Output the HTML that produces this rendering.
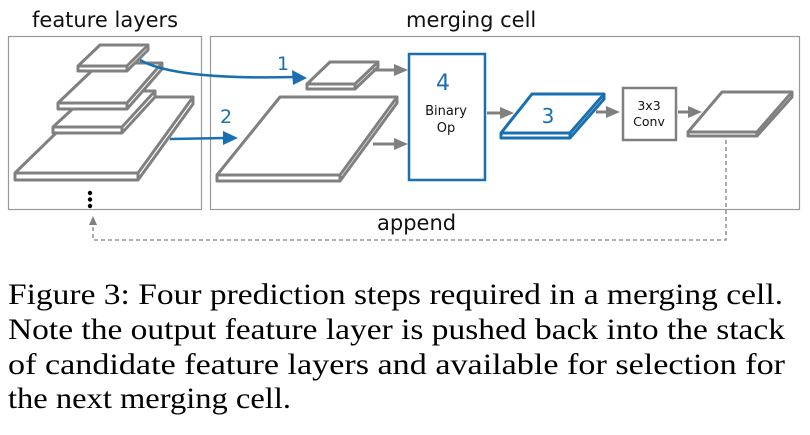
<!DOCTYPE html>
<html><head><style>
html,body{margin:0;padding:0;background:#fff;width:810px;height:435px;overflow:hidden}
svg{display:block}
.s{font-family:"DejaVu Sans","Liberation Sans",sans-serif}
.t{font-family:"Liberation Serif",serif;font-size:30px;fill:#000}
</style></head><body>
<svg width="810" height="435" viewBox="0 0 810 435" xmlns="http://www.w3.org/2000/svg">
<defs>
<marker id="ag" markerWidth="8" markerHeight="8" refX="6" refY="4" orient="auto" markerUnits="userSpaceOnUse"><path d="M0,0 L12,4 L0,8 Z" fill="#808080" transform="scale(0.6,1)"/></marker>
<marker id="ab" markerWidth="14" markerHeight="12" refX="12" refY="6" orient="auto" markerUnits="userSpaceOnUse"><path d="M0,0 L14,6 L0,12 Z" fill="#1a6fb0"/></marker>
<marker id="ad" markerWidth="8" markerHeight="10" refX="4" refY="0" orient="auto" markerUnits="userSpaceOnUse"></marker>
</defs>
<text x="32" y="27" class="s" font-size="21" fill="#111">feature layers</text>
<text x="406" y="27" class="s" font-size="21" fill="#111">merging cell</text>
<rect x="8.5" y="36.5" width="193" height="173" fill="none" stroke="#999" stroke-width="1.2"/>
<rect x="210.5" y="36.5" width="589" height="173" fill="none" stroke="#999" stroke-width="1.2"/>
<g fill="#fff" stroke="#808080" stroke-width="3" stroke-linejoin="round">
<!-- big left -->
<path d="M93,97 L193,97 L193,104 L138,180 L15,180 L15,173 Z"/><path d="M15,173 L138,173 L193,97 M138,173 L138,180"/>
<!-- third -->
<path d="M92,91 L155,91 L155,97 L122,133 L53,133 L53,127 Z"/><path d="M53,127 L122,127 L155,91 M122,127 L122,133"/>
<!-- second -->
<path d="M100,63 L162,63 L162,69 L127,109 L58,109 L58,103 Z"/><path d="M58,103 L127,103 L162,63 M127,103 L127,109"/>
<!-- top small -->
<path d="M100,45 L148,45 L148,50 L127,71 L78,71 L78,66 Z"/><path d="M78,66 L127,66 L148,45 M127,66 L127,71"/>
<!-- merging small -->
<path d="M330,62 L378,62 L378,67 L355,89 L307,89 L307,84 Z"/><path d="M307,84 L355,84 L378,62 M355,84 L355,89"/>
<!-- merging big -->
<path d="M280,97 L397,97 L397,103 L340,181 L217,181 L217,175 Z"/><path d="M217,175 L340,175 L397,97 M340,175 L340,181"/>
<!-- output -->
<path d="M722,92 L792,92 L792,97 L757,136 L688,136 L688,132 Z"/><path d="M688,132 L757,132 L792,92 M757,132 L757,136"/>
</g>
<g fill="#fff" stroke="#1a6fb0" stroke-width="3" stroke-linejoin="round">
<path d="M532,94 L604,94 L604,99 L570,138 L501,138 L501,133 Z"/><path d="M501,133 L570,133 L604,94 M570,133 L570,138"/>
</g>
<circle cx="90" cy="193" r="2.2" fill="#000"/><circle cx="90" cy="199.5" r="2.2" fill="#000"/><circle cx="90" cy="206" r="2.2" fill="#000"/>
<!-- gray arrows -->
<g stroke="#808080" stroke-width="3" fill="#808080">
<line x1="373" y1="70" x2="396" y2="70"/><path d="M394,64 L408,70 L394,76 Z" stroke="none"/>
<line x1="373" y1="144" x2="396" y2="144"/><path d="M394,138 L408,144 L394,150 Z" stroke="none"/>
<line x1="487" y1="113" x2="502" y2="113"/><path d="M500,107 L514,113 L500,119 Z" stroke="none"/>
<line x1="596" y1="112" x2="608" y2="112"/><path d="M606,106 L620,112 L606,118 Z" stroke="none"/>
<line x1="678" y1="112" x2="690" y2="112"/><path d="M688,106 L702,112 L688,118 Z" stroke="none"/>
</g>
<rect x="409" y="54" width="76" height="126" fill="none" stroke="#1a6fb0" stroke-width="2.5"/>
<text x="443" y="90" class="s" font-size="22" fill="#1a6fb0" text-anchor="middle">4</text>
<text x="446" y="115" class="s" font-size="13" fill="#111" text-anchor="middle">Binary</text>
<text x="446" y="132" class="s" font-size="13" fill="#111" text-anchor="middle">Op</text>
<text x="548" y="123" class="s" font-size="20" fill="#1a6fb0" text-anchor="middle">3</text>
<rect x="623" y="88" width="53" height="52" fill="#fff" stroke="#808080" stroke-width="2.5"/>
<text x="649" y="110" class="s" font-size="12.5" fill="#111" text-anchor="middle">3x3</text>
<text x="649" y="126" class="s" font-size="12.5" fill="#111" text-anchor="middle">Conv</text>
<!-- blue arrows -->
<path d="M140,60 Q175,80 295,77" fill="none" stroke="#1a6fb0" stroke-width="2.5"/>
<path d="M292,70 L307,78 L293,85 Z" fill="#1a6fb0"/>
<text x="283" y="70" class="s" font-size="19" fill="#1a6fb0" text-anchor="middle">1</text>
<line x1="170" y1="139" x2="226" y2="138" stroke="#1a6fb0" stroke-width="2.5"/>
<path d="M223,131 L238,138 L223,145 Z" fill="#1a6fb0"/>
<text x="226" y="123" class="s" font-size="19" fill="#1a6fb0" text-anchor="middle">2</text>
<!-- dashed append -->
<path d="M726,140 L726,240 L93,240 L93,222" fill="none" stroke="#808080" stroke-width="1.3" stroke-dasharray="4,3"/>
<path d="M89,225 L93,216 L97,225 Z" fill="#808080"/>
<text x="377" y="230" class="s" font-size="21" fill="#111">append</text>
<!-- caption -->
<text x="8" y="304" class="t" textLength="775" lengthAdjust="spacingAndGlyphs">Figure 3: Four prediction steps required in a merging cell.</text>
<text x="8" y="339" class="t" textLength="777" lengthAdjust="spacingAndGlyphs">Note the output feature layer is pushed back into the stack</text>
<text x="8" y="374" class="t" textLength="777" lengthAdjust="spacingAndGlyphs">of candidate feature layers and available for selection for</text>
<text x="8" y="408" class="t" textLength="283" lengthAdjust="spacingAndGlyphs">the next merging cell.</text>
</svg>
</body></html>
